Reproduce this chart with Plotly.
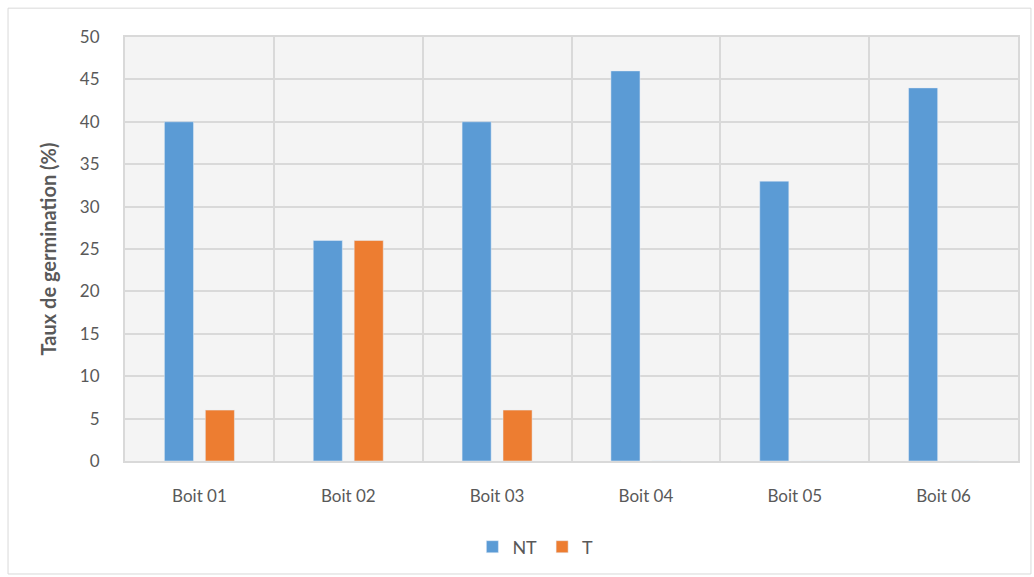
import plotly.graph_objects as go

categories = ["Boit 01", "Boit 02", "Boit 03", "Boit 04", "Boit 05", "Boit 06"]
nt_values = [40, 26, 40, 46, 33, 44]
t_values = [6, 26, 6, 0, 0, 0]

BLUE = "#5b9bd5"
ORANGE = "#ed7d31"
GRID = "#d9d9d9"
TEXT = "#595959"
FONT = "Lato"

fig = go.Figure()
fig.add_trace(go.Bar(name="NT", x=categories, y=nt_values, marker_color=BLUE))
fig.add_trace(go.Bar(name="T", x=categories, y=t_values, marker_color=ORANGE))

fig.update_layout(
    width=1034,
    height=577,
    margin=dict(l=125, r=16, t=37, b=116, autoexpand=False),
    paper_bgcolor="white",
    plot_bgcolor="#f4f4f4",
    barmode="group",
    bargap=0.45,
    bargroupgap=0.29,
    font=dict(family=FONT, size=17, color=TEXT),
    showlegend=True,
    legend=dict(
        orientation="h",
        x=0.389, xanchor="left",
        yref="container", y=0.052, yanchor="middle",
        font=dict(size=18, color=TEXT),
        itemwidth=30,
        traceorder="normal",
    ),
    shapes=[
        dict(
            type="rect", xref="paper", yref="paper",
            x0=-0.131, x1=1.0145, y0=-0.2665, y1=1.068,
            line=dict(color=GRID, width=1), fillcolor="rgba(0,0,0,0)",
            layer="below",
        )
    ],
)

fig.update_xaxes(
    tickson="boundaries",
    showgrid=True, gridcolor=GRID, gridwidth=2,
    showline=True, linecolor=GRID, linewidth=2, mirror=True,
    ticks="", ticklabelstandoff=19,
    tickfont=dict(family=FONT, size=17, color=TEXT),
)
fig.update_yaxes(
    range=[0, 50], dtick=5,
    showgrid=True, gridcolor=GRID, gridwidth=2,
    showline=True, linecolor=GRID, linewidth=2, mirror=True,
    zeroline=False, ticks="", ticklabelstandoff=20,
    tickfont=dict(family=FONT, size=17, color=TEXT),
    title=dict(
        text="<b>Taux de germination (%)</b>",
        font=dict(family=FONT, size=20, color=TEXT),
        standoff=18,
    ),
)

fig.write_html("out.html")
